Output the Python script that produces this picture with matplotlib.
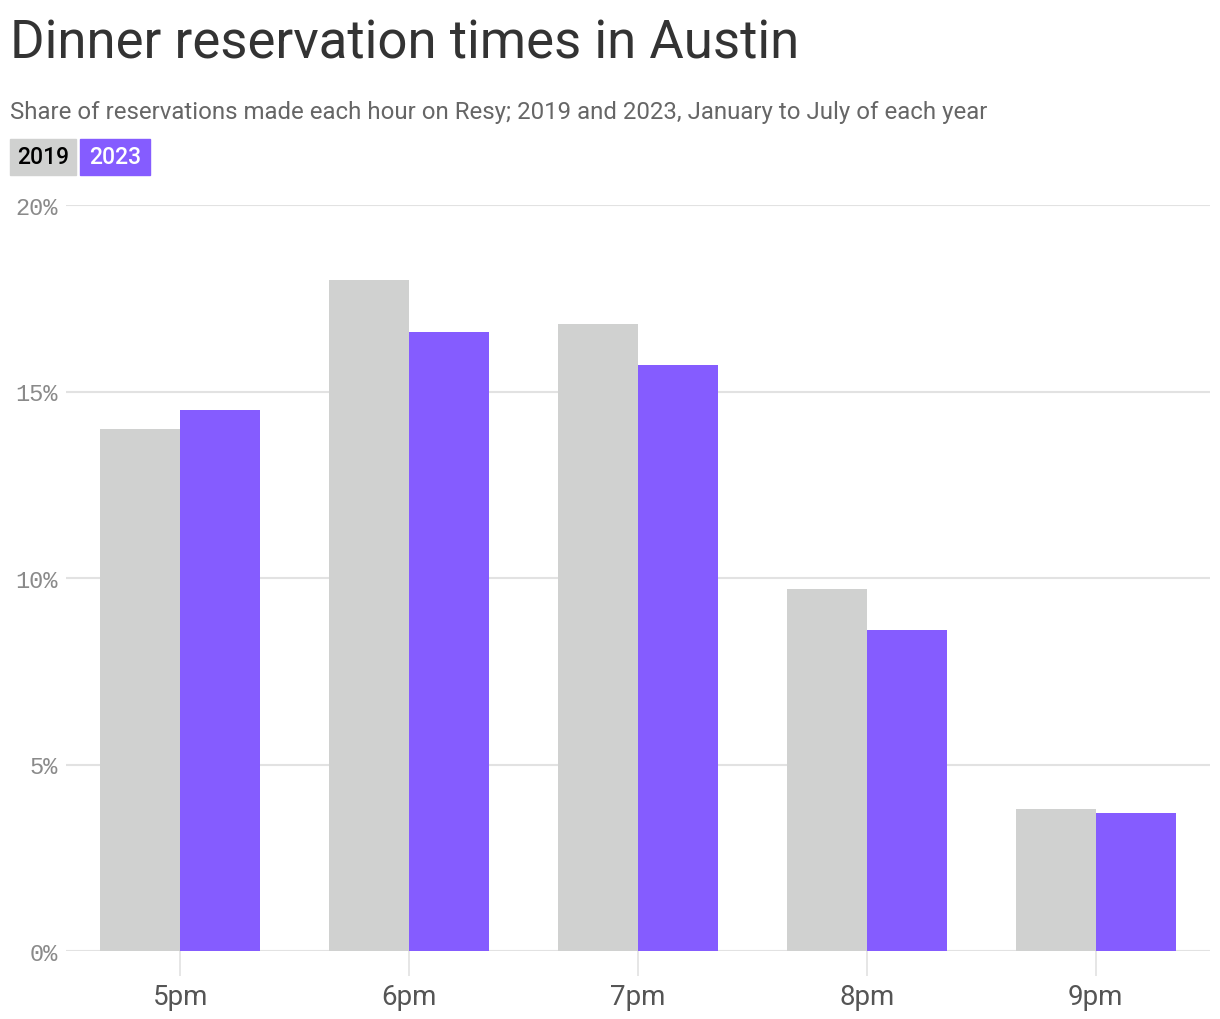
import numpy as np
import matplotlib.pyplot as plt
from matplotlib.patches import Rectangle

# Data
hours = ['5pm', '6pm', '7pm', '8pm', '9pm']
share_2019 = [14.0, 18.0, 16.8, 9.7, 3.8]
share_2023 = [14.5, 16.6, 15.7, 8.6, 3.7]
y_ticks = [0, 5, 10, 15, 20]

grey = '#d0d1d0'
purple = '#855cff'

fig = plt.figure(figsize=(12.2, 10.2), dpi=100)
ax = fig.add_axes([66/1220, 1 - 952/1020, (1210 - 66)/1220, (952 - 206)/1020])

x = np.arange(len(hours))
w = 0.35
ax.bar(x - w/2, share_2019, width=w, color=grey, zorder=2)
ax.bar(x + w/2, share_2023, width=w, color=purple, zorder=2)

ax.set_xlim(-0.5, len(hours) - 0.5)
ax.set_ylim(0, 20)
ax.set_yticks(y_ticks)
ax.set_yticklabels([f'{t}%' for t in y_ticks], family='Liberation Mono',
                   fontsize=17, color='#8a8a8a')
ax.yaxis.grid(True, color='#e2e2e2', linewidth=1.5, zorder=0)
ax.tick_params(axis='y', length=0, pad=6)

ax.set_xticks(x)
ax.set_xticklabels(hours, fontsize=20, color='#555555', family='Roboto')
ax.tick_params(axis='x', length=18, width=1.2, color='#e2e2e2', pad=5)

for s in ax.spines.values():
    s.set_visible(False)

# Title, subtitle
fig.text(10/1220, 1 - 44/1020, 'Dinner reservation times in Austin', fontsize=38,
         color='#333333', va='center', ha='left', family='Roboto')
fig.text(10/1220, 1 - 112/1020,
         'Share of reservations made each hour on Resy; 2019 and 2023, January to July of each year',
         fontsize=17.3, color='#666666', va='center', ha='left', family='Roboto')

# Legend chips
fig.patches.append(Rectangle((10/1220, 1 - 176/1020), 66/1220, 36/1020,
                             transform=fig.transFigure, color=grey))
fig.patches.append(Rectangle((80/1220, 1 - 176/1020), 70/1220, 36/1020,
                             transform=fig.transFigure, color=purple))
fig.text(43/1220, 1 - 158/1020, '2019', fontsize=16.5, color='black',
         ha='center', va='center', weight='medium', family='Roboto')
fig.text(115/1220, 1 - 158/1020, '2023', fontsize=16.5, color='white',
         ha='center', va='center', weight='medium', family='Roboto')

fig.savefig('out.png', dpi=100)
